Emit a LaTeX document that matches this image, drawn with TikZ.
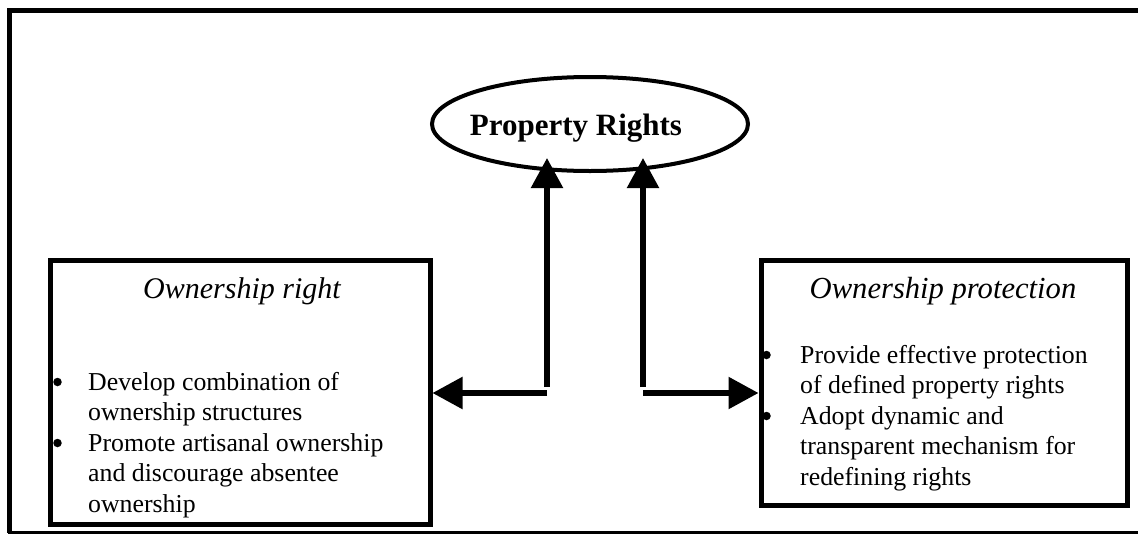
\documentclass[tikz,border=0pt]{standalone}
\usepackage{fontspec}
\setmainfont{Liberation Serif}
\usetikzlibrary{arrows.meta,shapes.geometric}
\begin{document}
\begin{tikzpicture}[x=1pt,y=-1pt,
  box/.style={draw,line width=5pt,inner sep=0pt,anchor=north west},
  oval/.style={draw,ellipse,line width=4pt,inner sep=0pt},
  heading/.style={font=\fontsize{30}{34}\selectfont\itshape,anchor=base,inner sep=0pt},
  bodyline/.style={font=\fontsize{25.8}{30.5}\selectfont,anchor=base west,inner sep=0pt},
  dot/.style={circle,fill,inner sep=0pt,minimum size=8.5pt},
  link/.style={line width=5.5pt,-{Triangle[length=30pt,width=31pt]}}]
\useasboundingbox (0,0) rectangle (1138,536);

% page frame, open on the right
\draw[line width=5pt] (1145,10.5) -| (9.5,533);
\draw[line width=3pt] (8,532) -- (1145,532);

% central ellipse
\node[oval,minimum width=316pt,minimum height=94pt] (pr) at (590,124) {};
\node[font=\fontsize{31}{35}\selectfont\bfseries,anchor=base,inner sep=0pt] (prt) at (576,135) {Property Rights};

% left box
\node[box,minimum width=380pt,minimum height=264pt] (own) at (47.5,257.5) {};
\node[heading] (ownt) at (242,298) {Ownership right};
\node[dot] (ownb1) at (57.5,382) {};
\node[dot] (ownb2) at (57.5,443) {};
\node[bodyline] (ownl1) at (88,390) {Develop combination of};
\node[bodyline] (ownl2) at (88,420.5) {ownership structures};
\node[bodyline] (ownl3) at (88,451) {Promote artisanal ownership};
\node[bodyline] (ownl4) at (88,481.5) {and discourage absentee};
\node[bodyline] (ownl5) at (88,512) {ownership};

% right box
\node[box,minimum width=366pt,minimum height=245pt] (prot) at (758.5,257.5) {};
\node[heading,font=\fontsize{30.6}{34}\selectfont\itshape] (prott) at (943,298) {Ownership protection};
\node[dot] (protb1) at (766.5,355) {};
\node[dot] (protb2) at (766.5,416) {};
\node[bodyline] (protl1) at (800,363) {Provide effective protection};
\node[bodyline] (protl2) at (800,393.5) {of defined property rights};
\node[bodyline] (protl3) at (800,424) {Adopt dynamic and};
\node[bodyline] (protl4) at (800,454.5) {transparent mechanism for};
\node[bodyline] (protl5) at (800,485) {redefining rights};

% connector joints and tips
\coordinate (lv) at (547,387);
\coordinate (ltip) at (547,158);
\coordinate (lh) at (547,393);
\coordinate (rv) at (643,387);
\coordinate (rtip) at (643,158);
\coordinate (rh) at (643,393);

\draw[link] (lv) -- (ltip);
\draw[link] (rv) -- (rtip);
\draw[link] (lh) -- (lh -| own.east);
\draw[link] (rh) -- (rh -| prot.west);
\end{tikzpicture}
\end{document}
